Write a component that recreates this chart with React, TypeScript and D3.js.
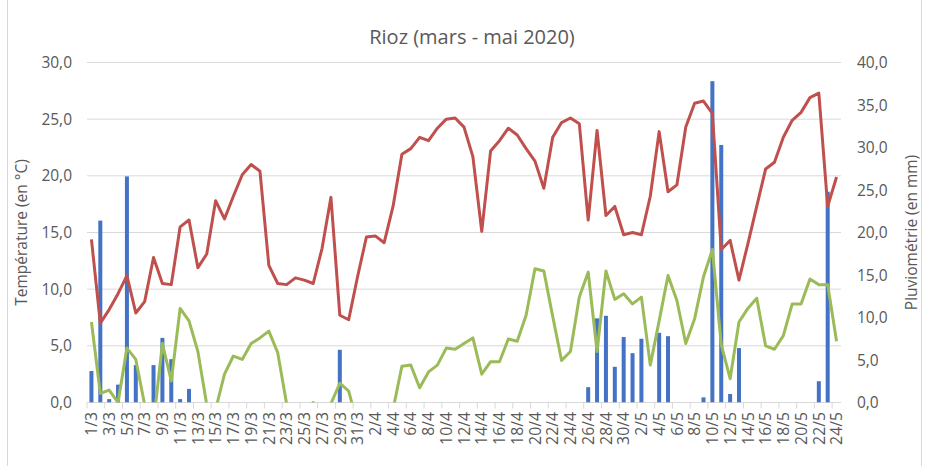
import { useEffect, useRef } from "react";
import * as d3 from "d3";

// jours du 1/3 au 24/5/2020
const dates = [
  "1/3", "2/3", "3/3", "4/3", "5/3", "6/3", "7/3", "8/3", "9/3", "10/3",
  "11/3", "12/3", "13/3", "14/3", "15/3", "16/3", "17/3", "18/3", "19/3", "20/3",
  "21/3", "22/3", "23/3", "24/3", "25/3", "26/3", "27/3", "28/3", "29/3", "30/3", "31/3",
  "1/4", "2/4", "3/4", "4/4", "5/4", "6/4", "7/4", "8/4", "9/4", "10/4",
  "11/4", "12/4", "13/4", "14/4", "15/4", "16/4", "17/4", "18/4", "19/4", "20/4",
  "21/4", "22/4", "23/4", "24/4", "25/4", "26/4", "27/4", "28/4", "29/4", "30/4",
  "1/5", "2/5", "3/5", "4/5", "5/5", "6/5", "7/5", "8/5", "9/5", "10/5",
  "11/5", "12/5", "13/5", "14/5", "15/5", "16/5", "17/5", "18/5", "19/5", "20/5",
  "21/5", "22/5", "23/5", "24/5",
];

// température max (°C)
const tmax = [
  14.4, 7.0, 8.2, 9.6, 11.2, 7.9, 8.9, 12.8, 10.5, 10.4,
  15.5, 16.1, 11.9, 13.1, 17.8, 16.2, 18.2, 20.1, 21.0, 20.4,
  12.1, 10.5, 10.4, 11.0, 10.8, 10.5, 13.6, 18.1, 7.7, 7.3, 11.1,
  14.6, 14.7, 14.1, 17.3, 21.9, 22.4, 23.4, 23.1, 24.2, 25.0,
  25.1, 24.3, 21.7, 15.1, 22.2, 23.1, 24.2, 23.6, 22.4, 21.3,
  18.9, 23.4, 24.7, 25.1, 24.6, 16.1, 24.0, 16.5, 17.3, 14.8,
  15.0, 14.8, 18.2, 23.9, 18.6, 19.2, 24.3, 26.4, 26.6, 25.5,
  13.5, 14.3, 10.8, 14.0, 17.3, 20.6, 21.2, 23.4, 24.9, 25.6,
  26.9, 27.3, 17.3, 19.9,
];

// température min (°C)
const tmin = [
  7.1, 0.8, 1.1, 0.0, 4.8, 3.8, -0.2, -1.8, 5.2, 1.9,
  8.3, 7.2, 4.5, -0.2, -0.6, 2.5, 4.1, 3.8, 5.2, 5.7,
  6.3, 4.4, -0.1, -1.5, -0.8, 0.0, -0.9, -0.1, 1.7, 1.0, -1.9,
  -2.4, -2.8, -1.6, -0.6, 3.2, 3.3, 1.3, 2.7, 3.3, 4.8,
  4.7, 5.2, 5.7, 2.5, 3.6, 3.6, 5.6, 5.4, 7.7, 11.8,
  11.6, 7.6, 3.7, 4.5, 9.3, 11.5, 4.5, 11.6, 9.1, 9.6,
  8.7, 9.3, 3.3, 7.2, 11.2, 9.0, 5.2, 7.4, 11.1, 13.5,
  5.1, 2.1, 7.1, 8.3, 9.2, 5.0, 4.7, 5.9, 8.7, 8.7,
  10.9, 10.4, 10.4, 5.4,
];

// pluviométrie (mm)
const rain = [
  3.7, 21.4, 0.4, 2.1, 26.6, 4.4, 0, 4.4, 7.6, 5.1,
  0.4, 1.6, 0, 0, 0, 0, 0, 0, 0, 0,
  0, 0, 0, 0, 0, 0, 0, 0, 6.2, 0, 0,
  0, 0, 0, 0, 0, 0, 0, 0, 0, 0,
  0, 0, 0, 0, 0, 0, 0, 0, 0, 0,
  0, 0, 0, 0, 0, 1.8, 9.9, 10.2, 4.2, 7.7,
  5.8, 7.5, 0, 8.2, 7.8, 0, 0, 0, 0.6, 37.8,
  30.3, 1.0, 6.4, 0, 0, 0, 0, 0, 0, 0,
  0, 2.5, 24.8, 0,
];

const tempTicks = [0, 5, 10, 15, 20, 25, 30];
const rainTicks = [0, 5, 10, 15, 20, 25, 30, 35, 40];

const W = 927;
const H = 466;
const FONT = "'Open Sans', sans-serif";
const GREY = "#595959";

export default function App() {
  const ref = useRef<SVGSVGElement>(null);

  useEffect(() => {
    const svg = d3.select(ref.current);
    svg.selectAll("*").remove();

    const left = 87, right = 841, top = 62.5, bottom = 402.5;
    const fmt = (v: number) => v.toFixed(1).replace(".", ",");

    const x = d3.scaleBand().domain(dates).range([left, right]).padding(0);
    const cx = (d: string) => (x(d) as number) + x.bandwidth() / 2;
    const yT = d3.scaleLinear().domain([0, 30]).range([bottom, top]);
    const yR = d3.scaleLinear().domain([0, 40]).range([bottom, top]);

    svg.append("rect")
      .attr("x", 7.5).attr("y", -2).attr("width", 914).attr("height", H + 4)
      .attr("fill", "white").attr("stroke", "#d9d9d9");

    svg.append("defs").append("clipPath").attr("id", "plot")
      .append("rect").attr("x", left).attr("y", top).attr("width", right - left).attr("height", bottom - top);

    // quadrillage
    svg.append("g").selectAll("line").data(tempTicks.slice(1)).join("line")
      .attr("x1", left).attr("x2", right)
      .attr("y1", (d) => yT(d)).attr("y2", (d) => yT(d))
      .attr("stroke", "#d9d9d9").attr("stroke-width", 1);

    // axe des x
    const ax = svg.append("g");
    ax.append("line").attr("x1", left).attr("x2", right).attr("y1", bottom).attr("y2", bottom)
      .attr("stroke", "#d9d9d9");
    const tickIdx = d3.range(0, dates.length + 1, 2);
    ax.selectAll("line.tk").data(tickIdx).join("line").attr("class", "tk")
      .attr("x1", (i) => left + i * x.step()).attr("x2", (i) => left + i * x.step())
      .attr("y1", bottom).attr("y2", bottom + 6).attr("stroke", "#d9d9d9");
    ax.selectAll("text").data(dates.filter((_, i) => i % 2 === 0)).join("text")
      .attr("transform", (d) => `translate(${cx(d) + 5.7},${bottom + 9.5}) rotate(-90)`)
      .attr("text-anchor", "end")
      .attr("font-family", FONT).attr("font-size", 15.8).attr("fill", GREY)
      .text((d) => d);

    // axes y
    svg.append("g").selectAll("text").data(tempTicks).join("text")
      .attr("x", 72).attr("y", (d) => yT(d) + 5.5).attr("text-anchor", "end")
      .attr("font-family", FONT).attr("font-size", 15.5).attr("fill", GREY)
      .text((d) => fmt(d));
    svg.append("g").selectAll("text").data(rainTicks).join("text")
      .attr("x", 857).attr("y", (d) => yR(d) + 5.5).attr("text-anchor", "start")
      .attr("font-family", FONT).attr("font-size", 15.5).attr("fill", GREY)
      .text((d) => fmt(d));

    // barres pluie
    svg.append("g").attr("clip-path", "url(#plot)").selectAll("rect").data(dates).join("rect")
      .attr("x", (d) => cx(d) - 2).attr("width", 4)
      .attr("y", (_, i) => yR(rain[i])).attr("height", (_, i) => bottom - yR(rain[i]))
      .attr("fill", "#4472c4");

    const line = (vals: number[]) =>
      d3.line<string>().x((d) => cx(d)).y((_, i) => yT(vals[i]))(dates);

    const lines = svg.append("g").attr("clip-path", "url(#plot)");
    lines.append("path").attr("d", line(tmax)).attr("fill", "none")
      .attr("stroke", "#c0504d").attr("stroke-width", 3).attr("stroke-linejoin", "round");
    lines.append("path").attr("d", line(tmin)).attr("fill", "none")
      .attr("stroke", "#9bbb59").attr("stroke-width", 3).attr("stroke-linejoin", "round");

    svg.append("text").attr("x", 472).attr("y", 44).attr("text-anchor", "middle")
      .attr("font-family", FONT).attr("font-size", 20).attr("fill", GREY)
      .text("Rioz (mars - mai 2020)");

    svg.append("text").attr("transform", `translate(27,${(top + bottom) / 2}) rotate(-90)`)
      .attr("text-anchor", "middle").attr("font-family", FONT).attr("font-size", 15.5).attr("fill", GREY)
      .text("Température (en °C)");
    svg.append("text").attr("transform", `translate(917,${(top + bottom) / 2}) rotate(-90)`)
      .attr("text-anchor", "middle").attr("font-family", FONT).attr("font-size", 15.5).attr("fill", GREY)
      .text("Pluviométrie (en mm)");
  }, []);

  return (
    <svg ref={ref} width={W} height={H}
      style={{ position: "absolute", left: 0, top: 0, display: "block" }} />
  );
}
